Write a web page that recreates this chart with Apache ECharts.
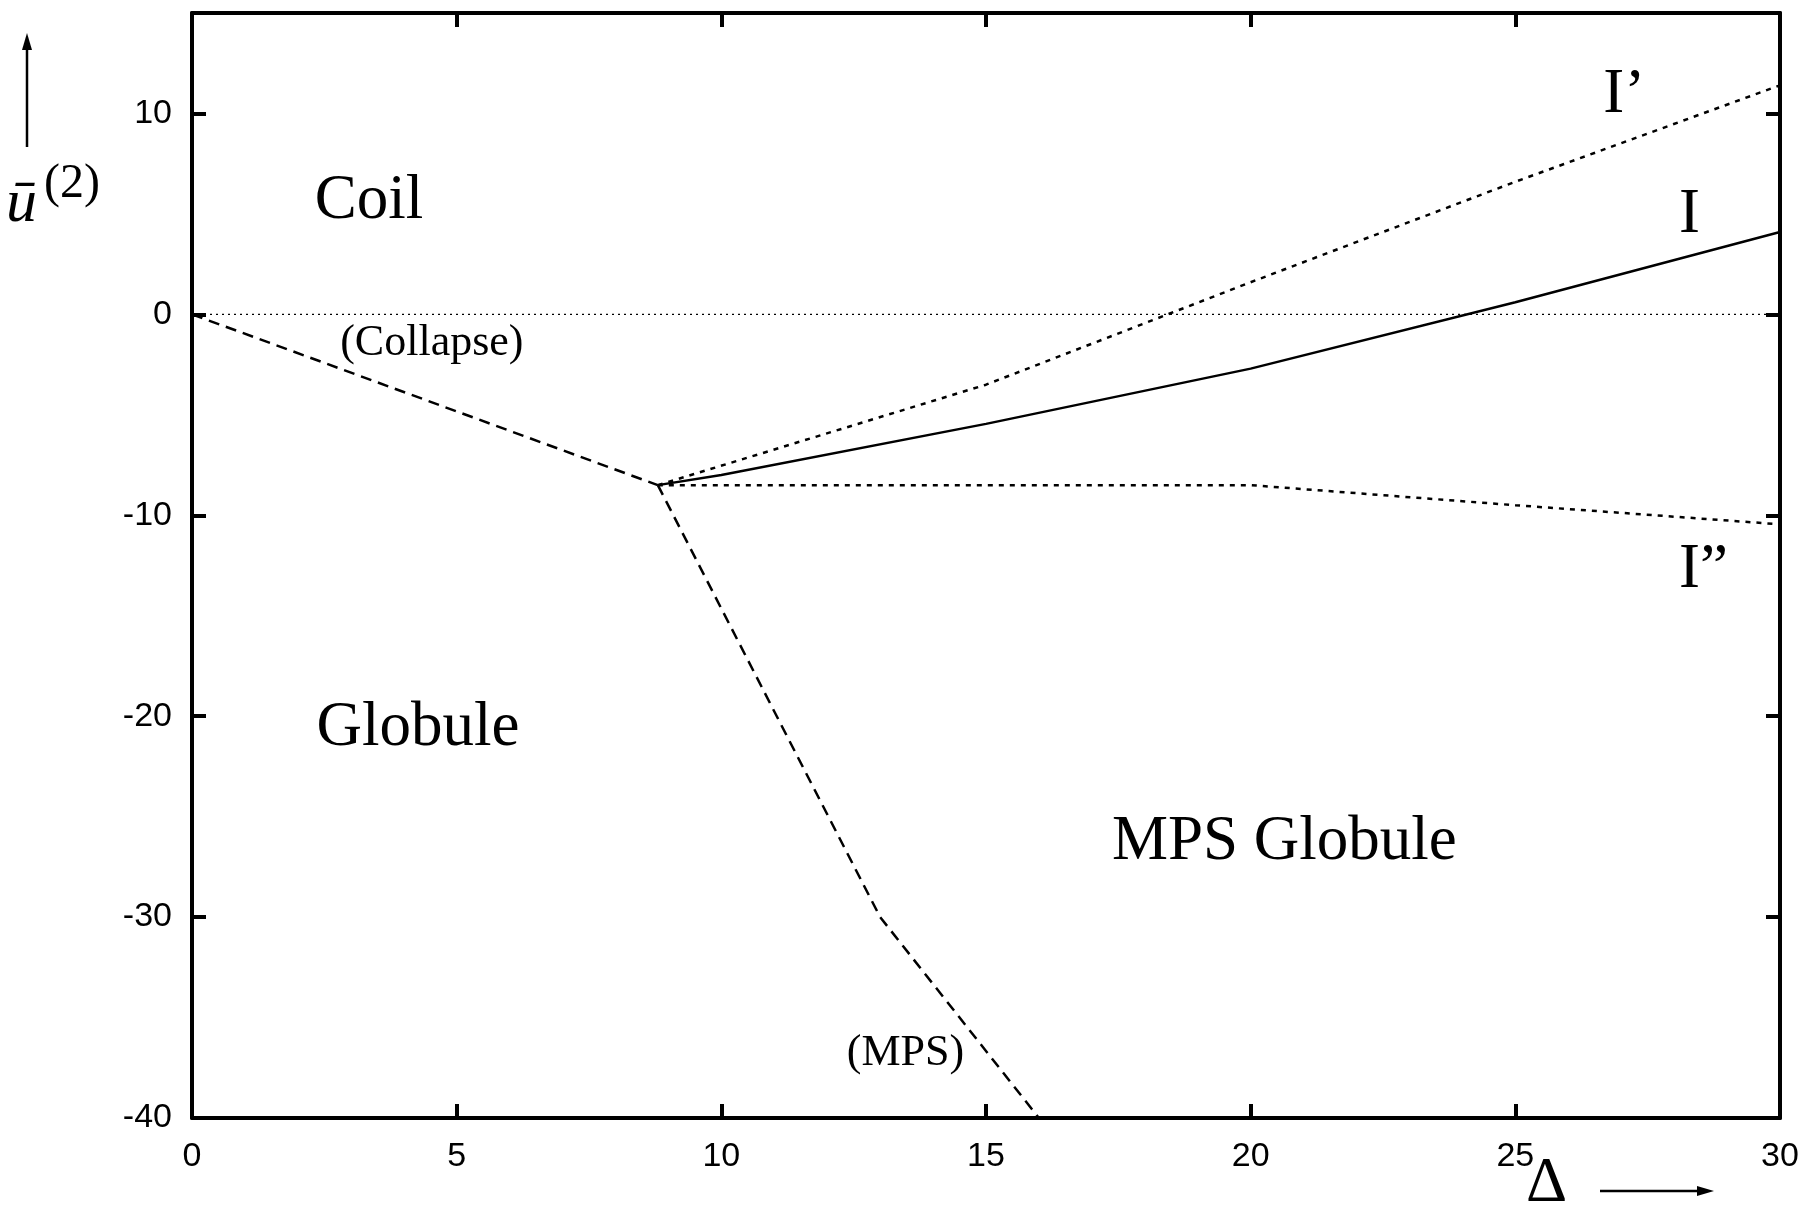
<!DOCTYPE html>
<html>
<head>
<meta charset="utf-8">
<script src="https://cdn.jsdelivr.net/npm/echarts@6/dist/echarts.min.js"></script>
<style>
  html, body { margin: 0; padding: 0; background: #fff; }
  #chart { width: 1804px; height: 1208px; }
</style>
</head>
<body>
<div id="chart"></div>
<script>
// Phase boundaries in the (Δ, ū(2)) plane
const xTicks = [0, 5, 10, 15, 20, 25, 30];
const yTicks = [-40, -30, -20, -10, 0, 10];

const zeroX = [0, 30];
const zeroY = [0, 0];

const collapseX = [0, 8.8];
const collapseY = [0, -8.5];

const mpsX = [8.8, 13, 16.0];
const mpsY = [-8.5, -30, -40];

const lineIX = [8.8, 10, 15, 20, 25, 30];
const lineIY = [-8.5, -8, -5.45, -2.7, 0.6, 4.1];

const lineIpX = [8.8, 15, 20, 25, 30];
const lineIpY = [-8.5, -3.5, 1.6, 6.6, 11.4];

const lineIppX = [8.8, 20, 25, 30];
const lineIppY = [-8.5, -8.5, -9.5, -10.45];

// Region names and boundary names, anchored at their left edge
const bigLabels = ['Coil', 'Globule', 'MPS Globule', 'I\u2019', 'I', 'I\u201D'];
const bigLabelX = [2.32, 2.35, 17.38, 26.66, 28.09, 28.09];
const bigLabelY = [5.6, -20.6, -26.3, 10.92, 4.93, -12.74];

const smallLabels = ['(Collapse)', '(MPS)'];
const smallLabelX = [2.8, 12.37];
const smallLabelY = [-1.44, -36.8];

const zip = (xs, ys) => xs.map((x, i) => [x, ys[i]]);

const SERIF = '"Liberation Serif", "DejaVu Serif", serif';
const SANS = '"Liberation Sans", Arial, sans-serif';

function axisCommon(showLabels) {
  return {
    type: 'value',
    axisLine: { show: true, onZero: false, lineStyle: { color: '#000', width: 4 } },
    axisTick: { show: true, inside: true, length: 14, lineStyle: { color: '#000', width: 4 } },
    axisLabel: { show: showLabels, color: '#000', fontSize: 34, fontFamily: SANS },
    splitLine: { show: false }
  };
}

const xBottom = Object.assign(axisCommon(true), { position: 'bottom', min: xTicks[0], max: xTicks[xTicks.length - 1], interval: 5 });
xBottom.axisLabel.margin = 22;
const xTop = Object.assign(axisCommon(false), { position: 'top', min: xTicks[0], max: xTicks[xTicks.length - 1], interval: 5 });
const yLeft = Object.assign(axisCommon(true), { position: 'left', min: yTicks[0], max: 15, interval: 10 });
yLeft.axisLabel.margin = 20;
yLeft.axisLabel.showMaxLabel = false;
const yRight = Object.assign(axisCommon(false), { position: 'right', min: yTicks[0], max: 15, interval: 10 });

function boundary(name, xs, ys, type, width) {
  return {
    name: name, type: 'line', data: zip(xs, ys), symbol: 'none', silent: true,
    xAxisIndex: 0, yAxisIndex: 0,
    lineStyle: { color: '#000', width: width, type: type, cap: 'butt' }
  };
}

function labelSeries(name, texts, xs, ys, size) {
  return {
    name: name, type: 'scatter', symbolSize: 0, silent: true,
    xAxisIndex: 0, yAxisIndex: 0,
    data: texts.map((t, i) => ({ value: [xs[i], ys[i]], name: t })),
    label: {
      show: true, position: 'right', distance: 0,
      formatter: p => p.name,
      color: '#000', opacity: 1, textBorderWidth: 0,
      fontSize: size, fontFamily: SERIF
    }
  };
}

const chart = echarts.init(document.getElementById('chart'), null, { renderer: 'canvas' });
chart.setOption({
  backgroundColor: '#fff',
  animation: false,
  grid: { left: 192, right: 24, top: 13, bottom: 90, containLabel: false },
  xAxis: [xBottom, xTop],
  yAxis: [yLeft, yRight],
  series: [
    boundary('zero', zeroX, zeroY, [2, 4], 1.2),
    boundary('Collapse', collapseX, collapseY, [11, 7], 2.5),
    boundary('MPS', mpsX, mpsY, [11, 7], 2.5),
    boundary('I', lineIX, lineIY, 'solid', 2.5),
    boundary('I\u2019', lineIpX, lineIpY, [5, 6], 2.5),
    boundary('I\u201D', lineIppX, lineIppY, [5, 6], 2.5),
    labelSeries('regions', bigLabels, bigLabelX, bigLabelY, 63),
    labelSeries('transitions', smallLabels, smallLabelX, smallLabelY, 44)
  ],
  graphic: [
    // vertical axis title with upward arrow
    { type: 'line', shape: { x1: 27, y1: 147, x2: 27, y2: 48 }, style: { stroke: '#000', lineWidth: 2.5 } },
    { type: 'polygon', shape: { points: [[27, 33], [22, 50], [32, 50]] }, style: { fill: '#000' } },
    { type: 'text', x: 6, y: 205, style: { text: '\u016B', font: 'italic 62px ' + SERIF, fill: '#000', verticalAlign: 'middle', align: 'left' } },
    { type: 'text', x: 44, y: 184, style: { text: '(2)', font: '48px ' + SERIF, fill: '#000', verticalAlign: 'middle', align: 'left' } },
    // horizontal axis title with rightward arrow
    { type: 'text', x: 1526, y: 1184, style: { text: '\u0394', font: '64px ' + SERIF, fill: '#000', verticalAlign: 'middle', align: 'left' } },
    { type: 'line', shape: { x1: 1600, y1: 1191, x2: 1700, y2: 1191 }, style: { stroke: '#000', lineWidth: 2.5 } },
    { type: 'polygon', shape: { points: [[1714, 1191], [1697, 1186], [1697, 1196]] }, style: { fill: '#000' } }
  ]
});
</script>
</body>
</html>
